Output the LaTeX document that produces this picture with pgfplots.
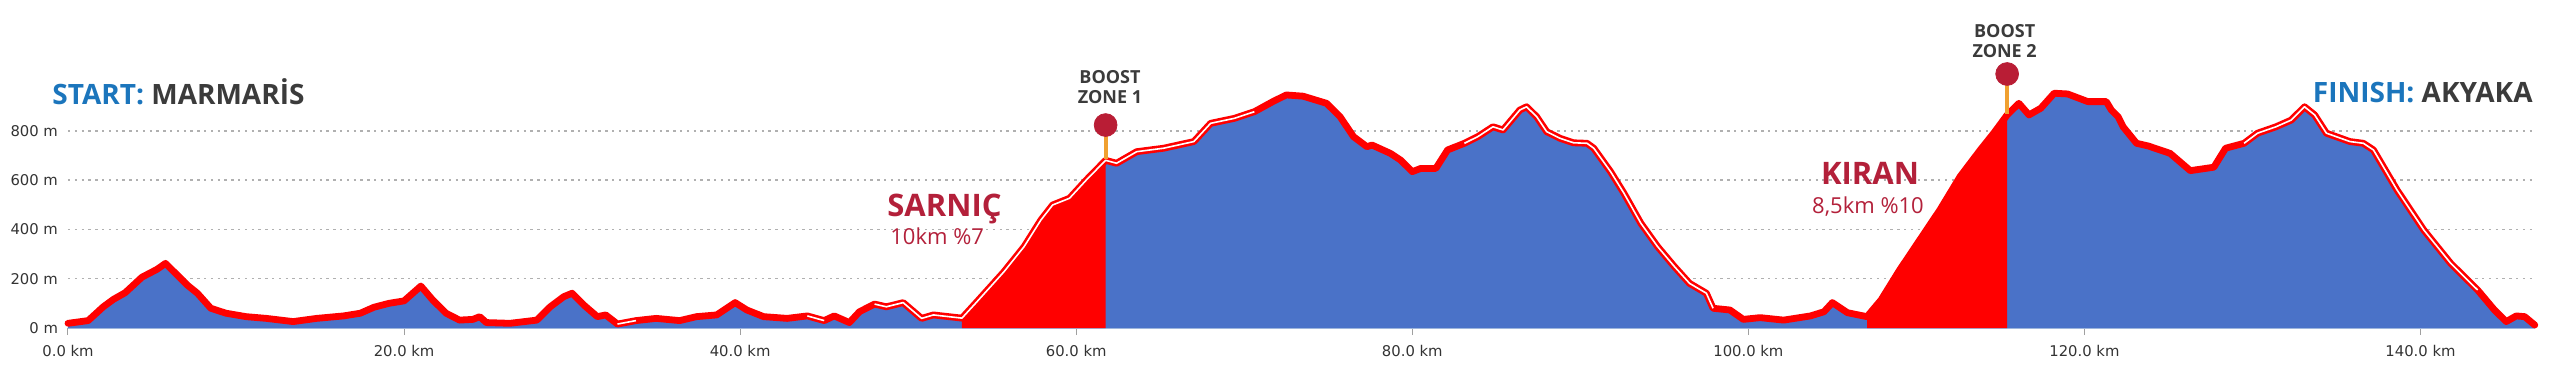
\documentclass[border=0pt]{standalone}
\usepackage{fontspec}
\usepackage{pgfplots}
\usepackage{pgfplotstable}
\pgfplotsset{compat=1.18}
\setmainfont{Open Sans}
\newfontfamily\tickfont{DejaVu Sans}
\definecolor{fillblue}{HTML}{4A72C8}
\definecolor{prored}{HTML}{FF0000}
\definecolor{crimson}{HTML}{B3203A}
\definecolor{boostc}{HTML}{B91D35}
\definecolor{stemc}{HTML}{F0A030}
\definecolor{darkt}{HTML}{3B3B3B}
\definecolor{titleblue}{HTML}{1B75BC}
\definecolor{gridc}{HTML}{B0B0B0}
\definecolor{axisc}{HTML}{A9BFE0}
\definecolor{tickc}{HTML}{A0A0A0}
\definecolor{ticktext}{HTML}{333333}

\pgfplotstableread{
km elev
0.0 19
1.2 30
2.1 86
2.7 116
3.4 143
4.4 206
5.3 238
5.8 262
6.5 215
7.1 174
7.7 141
8.5 80
9.4 60
10.6 46
11.8 39
13.4 26
14.8 39
16.4 49
17.4 60
18.2 84
19.1 100
20.0 110
21.0 170
21.7 114
22.5 60
23.3 32
24.1 35
24.5 46
24.9 22
26.3 19
27.9 32
28.7 86
29.5 127
30.0 141
30.7 93
31.5 46
32.0 53
32.7 16
33.8 30
35.0 39
36.4 30
37.4 46
38.6 53
39.2 80
39.7 103
40.4 73
41.4 46
42.8 39
44.0 49
45.0 30
45.6 49
46.5 22
47.1 66
48.0 97
48.7 86
49.7 103
50.8 39
51.5 53
53.2 40
54.1 107
55.7 228
56.9 330
57.9 438
58.6 499
59.6 526
60.6 600
61.75 680
62.4 668
63.6 715
65.2 729
67.0 756
68.0 830
69.4 850
70.6 877
71.7 918
72.5 945
73.5 940
74.9 911
75.7 857
76.5 776
77.3 735
77.6 742
78.7 708
79.3 681
80.0 634
80.5 647
81.4 647
82.1 722
83.1 749
83.9 776
84.8 816
85.4 803
86.4 884
86.8 897
87.4 857
88.0 796
88.8 769
89.6 751
90.4 749
90.8 729
91.8 634
92.6 546
93.6 425
94.6 330
95.6 249
96.5 181
97.5 141
97.9 80
98.9 73
99.7 35
100.7 42
102.1 32
103.7 49
104.5 66
105.0 103
105.9 62
107.06 46
107.9 114
109.0 235
110.2 357
111.4 479
112.6 614
113.8 722
114.6 790
115.4 864
116.1 911
116.7 864
117.4 891
118.2 952
119.0 949
120.2 918
121.3 918
121.6 884
122.0 857
122.3 816
123.1 749
123.8 738
125.1 708
126.3 638
127.7 652
128.4 729
129.5 749
130.3 790
131.4 816
132.3 843
133.1 897
133.7 864
134.4 790
135.8 756
136.6 749
137.2 722
138.6 560
140.2 397
141.8 262
143.4 154
144.4 73
145.1 26
145.7 49
146.2 46
146.8 12
}\profile

\begin{document}
\begin{tikzpicture}
\useasboundingbox (0pt,0pt) rectangle (1280pt,185pt);
\begin{axis}[
  at={(34pt,21pt)}, anchor=south west,
  scale only axis, width=1233.4pt, height=160.3pt,
  xmin=0, xmax=146.8, ymin=0, ymax=1300,
  clip=false,
  axis x line=bottom, axis y line=left,
  x axis line style={draw=axisc, line width=0.6pt, -},
  y axis line style={draw=none},
  xtick={0,20,40,60,80,100,120,140},
  xticklabels={0.0 km,20.0 km,40.0 km,60.0 km,80.0 km,100.0 km,120.0 km,140.0 km},
  ytick={0,200,400,600,800},
  yticklabels={0 m,200 m,400 m,600 m,800 m},
  tick align=outside,
  major tick length=3.5pt,
  xtick style={draw=tickc, line width=0.5pt},
  ytick style={draw=none},
  xticklabel style={font=\tickfont\fontsize{7.4}{8}\selectfont, text=ticktext, yshift=-1.5pt},
  yticklabel style={font=\tickfont\fontsize{7.4}{8}\selectfont, text=ticktext, xshift=2pt},
  ymajorgrids,
  major grid style={draw=gridc, line width=0.8pt, dash pattern=on 1.2pt off 2.2pt},
]
\addplot[draw=none, fill=fillblue] table[x=km, y=elev] {\profile} \closedcycle;
\addplot[draw=none, fill=prored, restrict x to domain=53.19:61.76] table[x=km, y=elev] {\profile} \closedcycle;
\addplot[draw=none, fill=prored, restrict x to domain=107.05:115.41] table[x=km, y=elev] {\profile} \closedcycle;
\addplot[draw=prored, line width=3.4pt, line join=round, line cap=round] table[x=km, y=elev] {\profile};
\addplot[draw=white, line width=0.8pt, line join=round, restrict x to domain=48.0:70.6] table[x=km, y=elev] {\profile};
\addplot[draw=white, line width=0.8pt, line join=round, restrict x to domain=83.1:97.9] table[x=km, y=elev] {\profile};
\addplot[draw=white, line width=0.8pt, line join=round, restrict x to domain=129.5:143.4] table[x=km, y=elev] {\profile};
\addplot[draw=white, line width=0.8pt, line join=round, restrict x to domain=32.7:33.8] table[x=km, y=elev] {\profile};
\addplot[draw=white, line width=0.8pt, line join=round, restrict x to domain=44.0:45.0] table[x=km, y=elev] {\profile};
% boost zone stems and markers
\addplot[draw=stemc, line width=2pt] coordinates {(61.75,685) (61.75,823)};
\addplot[draw=stemc, line width=2pt] coordinates {(115.4,869) (115.4,1030)};
\addplot[only marks, mark=*, mark size=5.7pt, mark options={fill=boostc, draw=boostc}] coordinates {(61.75,823) (115.4,1030)};
\end{axis}
% titles
\node[anchor=base west, inner sep=0] at (26pt,132.5pt)
  {\fontsize{14}{16}\selectfont\bfseries\textcolor{titleblue}{START:} \textcolor{darkt}{MARMARİS}};
\node[anchor=base east, inner sep=0] at (1266.5pt,133.6pt)
  {\fontsize{14}{16}\selectfont\bfseries\textcolor{titleblue}{FINISH:} \textcolor{darkt}{AKYAKA}};
% boost zone labels
\node[anchor=base, inner sep=0, text=darkt] at (555pt,143pt) {\fontsize{9}{10}\selectfont\bfseries BOOST};
\node[anchor=base, inner sep=0, text=darkt] at (555pt,133.35pt) {\fontsize{9}{10}\selectfont\bfseries ZONE 1};
\node[anchor=base, inner sep=0, text=darkt] at (1002.3pt,166.35pt) {\fontsize{9}{10}\selectfont\bfseries BOOST};
\node[anchor=base, inner sep=0, text=darkt] at (1002.3pt,156.35pt) {\fontsize{9}{10}\selectfont\bfseries ZONE 2};
% climb labels
\node[anchor=base west, inner sep=0, text=crimson] at (443.5pt,76.65pt) {\fontsize{15.5}{17}\selectfont\bfseries SARNIÇ};
\node[anchor=base west, inner sep=0, text=crimson] at (445pt,63pt) {\fontsize{11}{12}\selectfont 10km \%7};
\node[anchor=base, inner sep=0, text=crimson] at (935pt,92.5pt) {\fontsize{15.5}{17}\selectfont\bfseries KIRAN};
\node[anchor=base, inner sep=0, text=crimson] at (934pt,78pt) {\fontsize{11}{12}\selectfont 8,5km \%10};
\end{tikzpicture}
\end{document}
